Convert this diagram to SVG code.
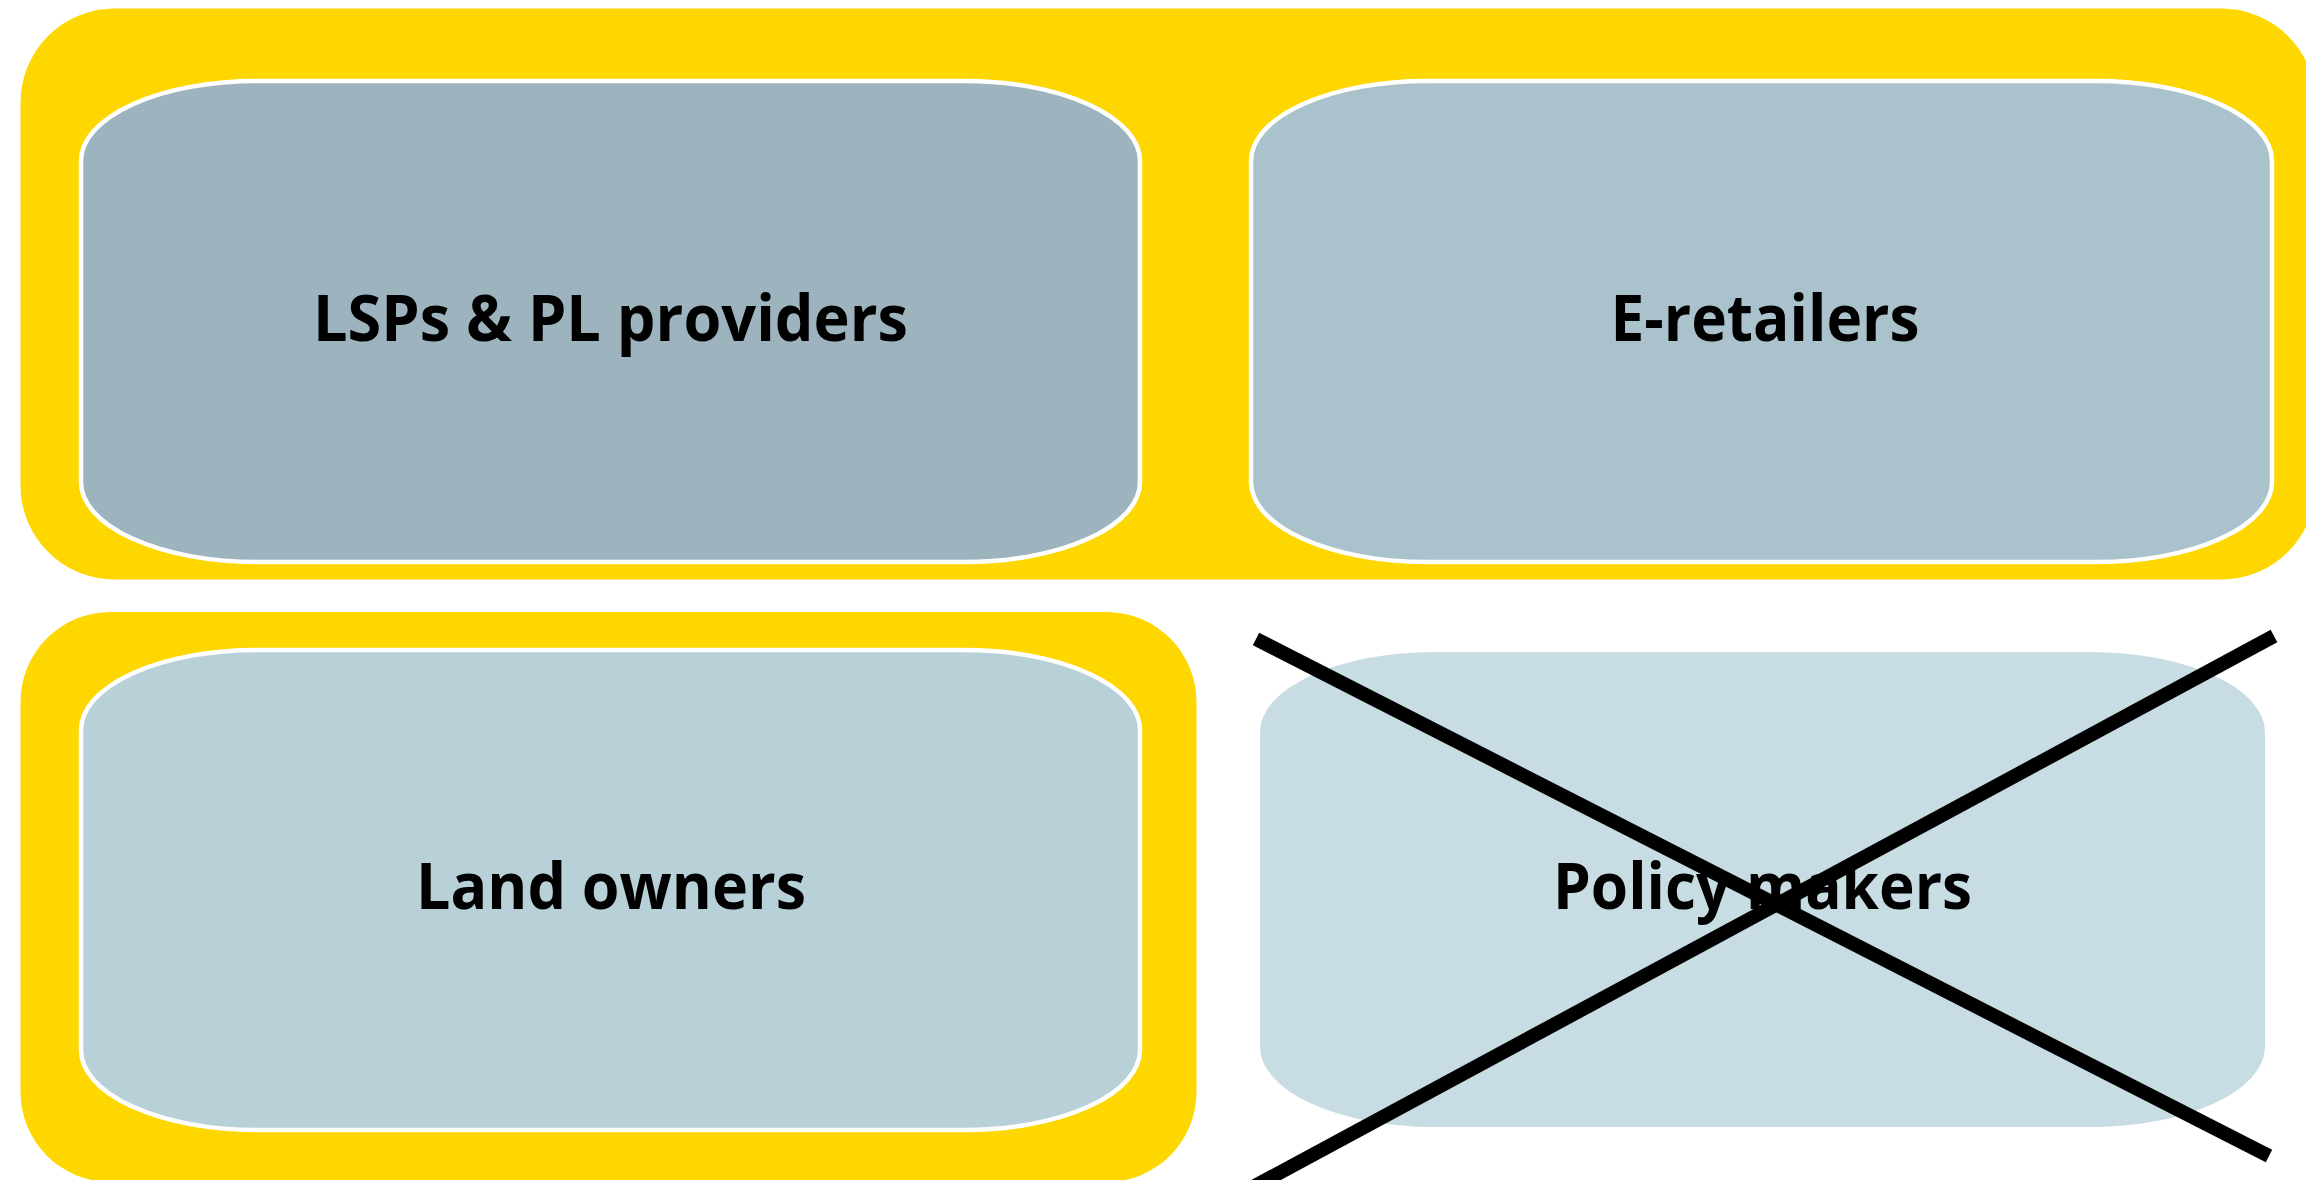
<svg xmlns="http://www.w3.org/2000/svg" width="2306" height="1180" viewBox="0 0 2306 1180">
  <style>
    .band { fill: #FED700; }
    .card { stroke: #FFFFFF; stroke-width: 4.5; }
    .label { font-family: "Open Sans", "Liberation Sans", sans-serif; font-weight: 700; font-size: 64px; fill: #000000; text-anchor: middle; }
    .cross { stroke: #000000; stroke-width: 14; stroke-linecap: butt; fill: none; }
  </style>
  <rect width="2306" height="1180" fill="#FFFFFF"/>

  <!-- highlighted groupings -->
  <g id="group-top">
    <rect class="band" x="20.5" y="8.5" width="2295" height="571" rx="94" ry="94"/>
  </g>
  <g id="group-bottom">
    <rect class="band" x="20.5" y="612" width="1176" height="570" rx="90" ry="90"/>
  </g>

  <g id="node-lsps">
    <rect class="card" x="81" y="81" width="1059" height="481" rx="175" ry="80" fill="#9DB4BF"/>
    <text class="label" x="610.5" y="341" textLength="595" lengthAdjust="spacingAndGlyphs">LSPs &amp; PL providers</text>
  </g>

  <g id="node-eretailers">
    <rect class="card" x="1251" y="81" width="1021" height="481" rx="175" ry="80" fill="#AAC2CC"/>
    <text class="label" x="1765" y="341" textLength="309" lengthAdjust="spacingAndGlyphs">E-retailers</text>
  </g>

  <g id="node-landowners">
    <rect class="card" x="81" y="650" width="1059" height="480" rx="175" ry="80" fill="#B8D0D8"/>
    <text class="label" x="611" y="909" textLength="390" lengthAdjust="spacingAndGlyphs">Land owners</text>
  </g>

  <g id="node-policymakers">
    <rect x="1260" y="652" width="1005" height="475" rx="175" ry="80" fill="#C8DCE3"/>
    <text class="label" x="1762.5" y="909" textLength="419" lengthAdjust="spacingAndGlyphs">Policy makers</text>
  </g>

  <!-- strike-through cross over the policy makers card -->
  <g id="connectors">
    <line class="cross" x1="1256" y1="639" x2="2269" y2="1156"/>
    <line class="cross" x1="2274" y1="636" x2="1255" y2="1186"/>
  </g>
</svg>
